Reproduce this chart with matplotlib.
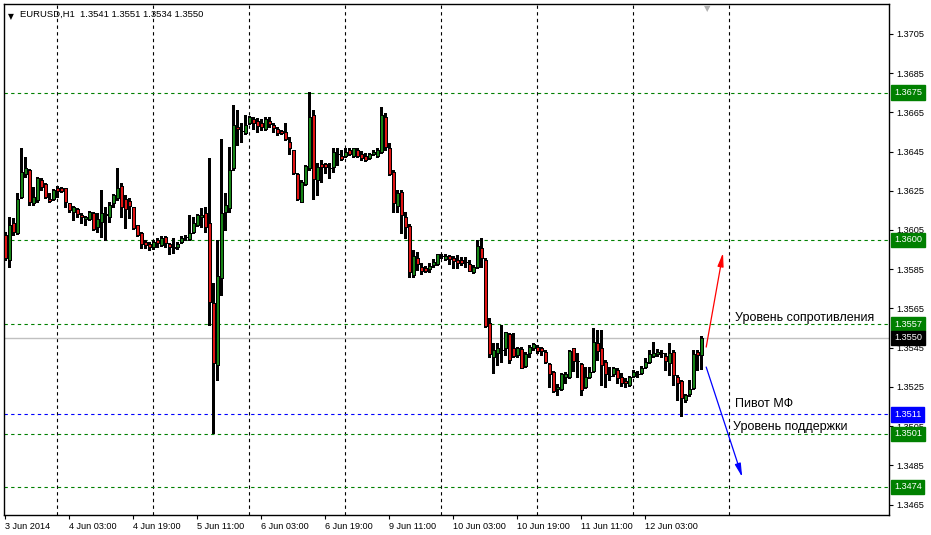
import matplotlib
matplotlib.use("Agg")
import matplotlib.pyplot as plt
import matplotlib.transforms as mtransforms
import numpy as np

# EURUSD H1 candles, first bar = 3 Jun 2014 11:00
opens = [1.36024, 1.35897, 1.36086, 1.36035, 1.36218, 1.36336, 1.36356, 1.36188, 1.36203, 1.36305,
         1.36285, 1.36208, 1.36208, 1.36264, 1.36264, 1.36264, 1.36188, 1.36142, 1.36157, 1.36126,
         1.36106, 1.36106, 1.36137, 1.36065, 1.36091, 1.36126, 1.36116, 1.36188, 1.36213, 1.36274,
         1.36208, 1.36198, 1.36167, 1.36075, 1.36035, 1.35989, 1.35979, 1.35963, 1.35999, 1.35973,
         1.36014, 1.35979, 1.35963, 1.35963, 1.35989, 1.36014, 1.36004, 1.36040, 1.36075, 1.36116,
         1.36137, 1.36086, 1.35678, 1.35361, 1.35805, 1.36142, 1.36162, 1.36366, 1.36575, 1.36555,
         1.36545, 1.36596, 1.36616, 1.36606, 1.36596, 1.36565, 1.36606, 1.36585, 1.36565, 1.36555,
         1.36550, 1.36499, 1.36458, 1.36336, 1.36193, 1.36285, 1.36366, 1.36636, 1.36305, 1.36387,
         1.36387, 1.36366, 1.36371, 1.36438, 1.36427, 1.36427, 1.36458, 1.36427, 1.36458, 1.36438,
         1.36427, 1.36417, 1.36438, 1.36427, 1.36448, 1.36626, 1.36468, 1.36346, 1.36172, 1.36244,
         1.36116, 1.36070, 1.35820, 1.35907, 1.35861, 1.35856, 1.35851, 1.35871, 1.35877, 1.35917,
         1.35902, 1.35917, 1.35907, 1.35897, 1.35897, 1.35887, 1.35877, 1.35836, 1.35861, 1.35958,
         1.35897, 1.35576, 1.35402, 1.35423, 1.35438, 1.35448, 1.35520, 1.35448, 1.35412, 1.35443,
         1.35356, 1.35423, 1.35448, 1.35453, 1.35448, 1.35428, 1.35367, 1.35326, 1.35239, 1.35239,
         1.35300, 1.35300, 1.35448, 1.35382, 1.35367, 1.35249, 1.35300, 1.35331, 1.35474, 1.35448,
         1.35377, 1.35305, 1.35316, 1.35336, 1.35300, 1.35280, 1.35260, 1.35305, 1.35316, 1.35321,
         1.35351, 1.35377, 1.35407, 1.35418, 1.35423, 1.35407, 1.35372, 1.35428, 1.35300, 1.35280,
         1.35183, 1.35214, 1.35244, 1.35428, 1.35410]
highs = [1.36040, 1.36116, 1.36111, 1.36239, 1.36468, 1.36422, 1.36361, 1.36269, 1.36320, 1.36315,
         1.36290, 1.36239, 1.36259, 1.36274, 1.36269, 1.36264, 1.36188, 1.36172, 1.36162, 1.36137,
         1.36121, 1.36147, 1.36142, 1.36137, 1.36254, 1.36167, 1.36193, 1.36234, 1.36366, 1.36290,
         1.36229, 1.36213, 1.36167, 1.36075, 1.36040, 1.35999, 1.35989, 1.35999, 1.36009, 1.36019,
         1.36019, 1.35984, 1.36009, 1.35989, 1.36019, 1.36024, 1.36126, 1.36116, 1.36132, 1.36162,
         1.36167, 1.36417, 1.35780, 1.35999, 1.36514, 1.36239, 1.36473, 1.36688, 1.36662, 1.36596,
         1.36636, 1.36631, 1.36626, 1.36621, 1.36616, 1.36626, 1.36626, 1.36596, 1.36575, 1.36560,
         1.36596, 1.36524, 1.36458, 1.36341, 1.36305, 1.36381, 1.36754, 1.36662, 1.36392, 1.36407,
         1.36392, 1.36392, 1.36468, 1.36468, 1.36458, 1.36468, 1.36468, 1.36468, 1.36468, 1.36453,
         1.36443, 1.36443, 1.36458, 1.36468, 1.36677, 1.36647, 1.36494, 1.36356, 1.36254, 1.36254,
         1.36142, 1.36081, 1.35948, 1.35938, 1.35882, 1.35866, 1.35882, 1.35902, 1.35928, 1.35928,
         1.35928, 1.35922, 1.35917, 1.35922, 1.35912, 1.35912, 1.35897, 1.35871, 1.35999, 1.36009,
         1.35907, 1.35601, 1.35474, 1.35474, 1.35565, 1.35530, 1.35525, 1.35525, 1.35453, 1.35453,
         1.35428, 1.35463, 1.35474, 1.35463, 1.35453, 1.35438, 1.35372, 1.35331, 1.35265, 1.35321,
         1.35326, 1.35438, 1.35448, 1.35423, 1.35372, 1.35351, 1.35351, 1.35550, 1.35540, 1.35540,
         1.35387, 1.35351, 1.35351, 1.35346, 1.35321, 1.35295, 1.35305, 1.35336, 1.35331, 1.35356,
         1.35397, 1.35438, 1.35479, 1.35443, 1.35438, 1.35423, 1.35474, 1.35438, 1.35310, 1.35285,
         1.35214, 1.35285, 1.35438, 1.35438, 1.35510]
lows = [1.35897, 1.35861, 1.36024, 1.36030, 1.36213, 1.36320, 1.36178, 1.36178, 1.36193, 1.36254,
        1.36213, 1.36193, 1.36203, 1.36218, 1.36244, 1.36167, 1.36142, 1.36101, 1.36116, 1.36086,
        1.36075, 1.36101, 1.36050, 1.36040, 1.36014, 1.35999, 1.36091, 1.36167, 1.36203, 1.36116,
        1.36060, 1.36111, 1.36055, 1.36019, 1.35958, 1.35958, 1.35948, 1.35953, 1.35963, 1.35968,
        1.35963, 1.35928, 1.35933, 1.35953, 1.35984, 1.35999, 1.35999, 1.36035, 1.36070, 1.36065,
        1.36040, 1.35566, 1.35015, 1.35285, 1.35719, 1.36050, 1.36142, 1.36356, 1.36484, 1.36499,
        1.36540, 1.36591, 1.36565, 1.36550, 1.36560, 1.36560, 1.36575, 1.36550, 1.36535, 1.36540,
        1.36509, 1.36438, 1.36336, 1.36203, 1.36193, 1.36280, 1.36356, 1.36208, 1.36229, 1.36295,
        1.36341, 1.36315, 1.36346, 1.36381, 1.36407, 1.36422, 1.36432, 1.36422, 1.36422, 1.36407,
        1.36402, 1.36412, 1.36432, 1.36422, 1.36443, 1.36458, 1.36331, 1.36142, 1.36142, 1.36035,
        1.36009, 1.35810, 1.35810, 1.35846, 1.35826, 1.35836, 1.35836, 1.35861, 1.35871, 1.35907,
        1.35897, 1.35877, 1.35856, 1.35856, 1.35871, 1.35861, 1.35841, 1.35831, 1.35856, 1.35861,
        1.35555, 1.35402, 1.35321, 1.35361, 1.35377, 1.35412, 1.35372, 1.35402, 1.35402, 1.35346,
        1.35351, 1.35402, 1.35438, 1.35423, 1.35412, 1.35372, 1.35249, 1.35224, 1.35209, 1.35234,
        1.35270, 1.35295, 1.35331, 1.35300, 1.35209, 1.35244, 1.35295, 1.35326, 1.35387, 1.35260,
        1.35249, 1.35285, 1.35305, 1.35270, 1.35254, 1.35249, 1.35254, 1.35300, 1.35300, 1.35316,
        1.35346, 1.35372, 1.35402, 1.35407, 1.35402, 1.35336, 1.35310, 1.35260, 1.35183, 1.35101,
        1.35173, 1.35203, 1.35239, 1.35336, 1.35340]
closes = [1.35907, 1.36076, 1.36040, 1.36208, 1.36346, 1.36366, 1.36193, 1.36218, 1.36315, 1.36269,
          1.36218, 1.36198, 1.36254, 1.36249, 1.36249, 1.36193, 1.36152, 1.36167, 1.36132, 1.36116,
          1.36116, 1.36142, 1.36055, 1.36106, 1.36137, 1.36132, 1.36178, 1.36229, 1.36264, 1.36167,
          1.36157, 1.36172, 1.36060, 1.36024, 1.35979, 1.35973, 1.35963, 1.35989, 1.35984, 1.36009,
          1.35984, 1.35963, 1.35958, 1.35979, 1.36009, 1.36016, 1.36035, 1.36086, 1.36126, 1.36126,
          1.36065, 1.35683, 1.35372, 1.35815, 1.36137, 1.36178, 1.36356, 1.36586, 1.36565, 1.36553,
          1.36586, 1.36626, 1.36596, 1.36580, 1.36575, 1.36616, 1.36591, 1.36570, 1.36545, 1.36545,
          1.36514, 1.36468, 1.36341, 1.36208, 1.36295, 1.36376, 1.36626, 1.36310, 1.36371, 1.36371,
          1.36371, 1.36364, 1.36448, 1.36436, 1.36412, 1.36448, 1.36438, 1.36468, 1.36427, 1.36417,
          1.36407, 1.36438, 1.36448, 1.36458, 1.36636, 1.36473, 1.36336, 1.36188, 1.36239, 1.36126,
          1.36065, 1.35836, 1.35917, 1.35877, 1.35841, 1.35841, 1.35866, 1.35887, 1.35928, 1.35919,
          1.35917, 1.35902, 1.35892, 1.35882, 1.35882, 1.35885, 1.35841, 1.35861, 1.35968, 1.35907,
          1.35560, 1.35418, 1.35438, 1.35448, 1.35436, 1.35530, 1.35387, 1.35407, 1.35448, 1.35346,
          1.35418, 1.35453, 1.35469, 1.35433, 1.35433, 1.35377, 1.35316, 1.35229, 1.35249, 1.35316,
          1.35316, 1.35433, 1.35382, 1.35380, 1.35234, 1.35300, 1.35326, 1.35479, 1.35433, 1.35362,
          1.35316, 1.35307, 1.35346, 1.35295, 1.35270, 1.35270, 1.35300, 1.35326, 1.35318, 1.35346,
          1.35377, 1.35418, 1.35423, 1.35428, 1.35425, 1.35382, 1.35423, 1.35310, 1.35270, 1.35193,
          1.35209, 1.35239, 1.35418, 1.35413, 1.35500]

time_labels = ["3 Jun 2014", "4 Jun 03:00", "4 Jun 19:00", "5 Jun 11:00", "6 Jun 03:00",
               "6 Jun 19:00", "9 Jun 11:00", "10 Jun 03:00", "10 Jun 19:00", "11 Jun 11:00",
               "12 Jun 03:00"]
label_bars = [0, 16, 32, 48, 64, 80, 96, 112, 128, 144, 160]
day_bars = [13, 37, 61, 85, 109, 133, 157, 181]
price_ticks = [1.3465, 1.3485, 1.3505, 1.3525, 1.3545, 1.3565, 1.3585, 1.3605,
               1.3625, 1.3645, 1.3665, 1.3685, 1.3705]

green_levels = [1.3675, 1.3600, 1.3557, 1.3501, 1.3474]
pivot_level = 1.3511
bid_price = 1.3550

# forecast arrows: (bar, price) start -> end
up_arrow = [(175.3, 1.35453), (179.5, 1.35933)]
down_arrow = [(175.3, 1.35351), (184.3, 1.34790)]
notes = [("Уровень сопротивления", 182.5, 1.35586),
         ("Пивот МФ", 182.5, 1.35147),
         ("Уровень поддержки", 182.0, 1.35030)]

GREEN = '#168416'
RED = '#e01414'
LEVEL_GREEN = '#008000'
FONT = 'Liberation Sans'

fig = plt.figure(figsize=(9.31, 5.35), dpi=100)
ax = fig.add_axes([4/931, 20/535, 885/931, 511/535])

o = np.array(opens); h = np.array(highs); l = np.array(lows); c = np.array(closes)
x = np.arange(len(o))

# vertical grid (day separators)
for d in day_bars:
    ax.axvline(d, color='black', lw=0.8, ls=(0, (3, 3)), zorder=1)

# levels
for lv in green_levels:
    ax.axhline(lv, color=LEVEL_GREEN, lw=0.8, ls=(0, (3, 3)), zorder=1)
ax.axhline(pivot_level, color='#0000ff', lw=0.8, ls=(0, (3, 3)), zorder=1)
ax.axhline(bid_price, color='#c0c0c0', lw=1.0, zorder=1)

# candles
ax.vlines(x, l, h, color='black', lw=0.75, zorder=2, antialiased=False)
colors = np.where(c >= o, GREEN, RED)
bottoms = np.minimum(o, c)
heights = np.abs(c - o)
ax.bar(x, heights, bottom=bottoms, width=0.75, color=colors,
       edgecolor='black', linewidth=0.5, zorder=3, antialiased=False)

# arrows
for (s, e), col in [(up_arrow, 'red'), (down_arrow, 'blue')]:
    ax.annotate('', xy=e, xytext=s,
                arrowprops=dict(arrowstyle='-|>,head_length=0.8,head_width=0.18',
                                color=col, lw=0.9, shrinkA=0, shrinkB=0),
                zorder=4)

for txt, bx, py in notes:
    ax.text(bx, py, txt, fontsize=9, family=FONT, va='baseline', ha='left', zorder=5)

ax.set_xlim(-0.25, 221)
ax.set_ylim(1.345965, 1.372026)

# axes styling
for sp in ax.spines.values():
    sp.set_color('black')
    sp.set_linewidth(1.0)
ax.yaxis.tick_right()
ax.set_yticks(price_ticks)
ax.set_yticklabels([f"{p:.4f}" for p in price_ticks])
ax.tick_params(axis='y', direction='out', length=3, width=0.8, pad=2, labelsize=6.6)
ax.set_xticks(label_bars)
ax.set_xticklabels(time_labels)
ax.tick_params(axis='x', direction='out', length=3, width=0.8, pad=2, labelsize=6.6)
for lab in ax.get_xticklabels():
    lab.set_ha('left')
    lab.set_family(FONT)
for lab in ax.get_yticklabels():
    lab.set_family(FONT)

# price tags on the right
tr = mtransforms.blended_transform_factory(ax.transAxes, ax.transData)
tags = [(lv, LEVEL_GREEN) for lv in green_levels] + [(pivot_level, '#0000ff'), (bid_price, 'black')]
for lv, col in tags:
    ax.text(1.0055, lv, f"{lv:.4f}", transform=tr, fontsize=6.6, family=FONT,
            color='white', va='center', ha='left', clip_on=False, zorder=6,
            bbox=dict(boxstyle='square,pad=0.3', fc=col, ec=col))

# header
ax.text(0.005, 0.985, "▼", transform=ax.transAxes, fontsize=5.5, va='top', ha='left')
ax.text(0.0185, 0.989, "EURUSD,H1  1.3541 1.3551 1.3534 1.3550", transform=ax.transAxes,
        fontsize=6.8, family=FONT, va='top', ha='left')
ax.text(0.795, 1.0, "▼", transform=ax.transAxes, fontsize=6, color='#b0b0b0',
        va='top', ha='center')

fig.savefig('out.png', dpi=100)
